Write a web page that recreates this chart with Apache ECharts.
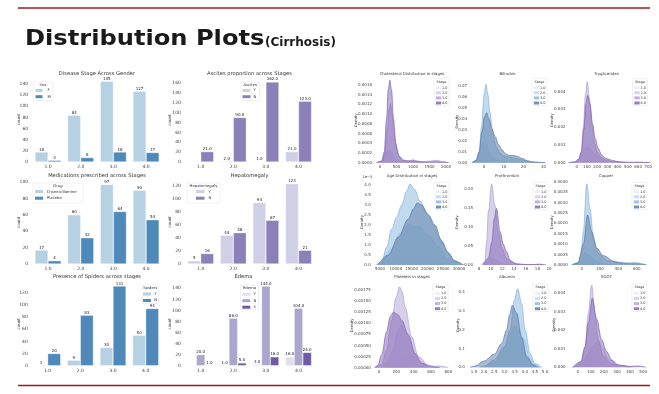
<!DOCTYPE html>
<html><head><meta charset="utf-8">
<script src="https://cdn.jsdelivr.net/npm/echarts@6/dist/echarts.min.js"></script>
<style>html,body{margin:0;padding:0;background:#fff}#c{width:659px;height:394px}</style>
</head><body><div id="c"></div>
<script>
// ---------------- DATA ----------------
const stages = ['1.0', '2.0', '3.0', '4.0'];
const sexF = [18, 84, 145, 127];
const sexM = [3, 8, 18, 17];
const ascitesY = [null, 2, 1, 21];
const ascitesN = [21, 90, 162, 123];
const drugDpen = [17, 60, 97, 90];
const drugPlacebo = [4, 32, 64, 54];
const hepaY = [5, 44, 94, 123];
const hepaN = [16, 48, 67, 21];
const spidersY = [1, 9, 30, 50];
const spidersN = [20, 83, 131, 94];
const edemaY = [null, 1, 3, 16];
const edemaN = [20, 86, 144, 104];
const edemaS = [1, 5, 16, 24];

const countTicks100 = [0, 20, 40, 60, 80, 100];
const countTicks120 = [0, 20, 40, 60, 80, 100, 120];
const countTicks140 = [0, 20, 40, 60, 80, 100, 120, 140];
const countTicks160 = [0, 20, 40, 60, 80, 100, 120, 140, 160];

// KDE curves [x, density]
const cholS1 = [[0,0],[150,0.00003],[300,0.00006],[450,0.00003],[700,0]];
const cholS2 = [[-80,0],[80,0.00004],[180,0.0002],[270,0.00026],[340,0.0002],[420,0.0001],[520,0.00004],[700,0.00001],[1000,0.00001],[1300,0]];
const cholS3 = [[-100,0],[50,0.00003],[150,0.0002],[220,0.0007],[280,0.0011],[320,0.00122],[370,0.001],[430,0.0006],[500,0.0003],[600,0.00012],[750,0.00005],[900,0.00004],[1000,0.00006],[1100,0.00004],[1300,0.00002],[1600,0.00004],[1750,0.00005],[1900,0.00002],[2080,0]];
const cholS4 = [[-100,0],[50,0.00003],[130,0.00022],[200,0.0009],[250,0.0015],[300,0.0017],[350,0.0015],[410,0.0009],[480,0.0004],[560,0.00015],[680,0.00005],[850,0.00003],[1000,0.00004],[1150,0.00002],[1400,0.00001],[1700,0.00002],[1900,0.00001],[2080,0]];

const biliS1 = [[-4,0],[-2,0.0015],[0.5,0.0035],[2.5,0.0025],[5,0.0008],[8,0.0002],[11,0]];
const biliS2 = [[-5.5,0],[-4,0.002],[-2,0.01],[-0.3,0.019],[1,0.017],[2.5,0.01],[4,0.005],[6,0.0025],[9,0.0015],[12,0.0012],[15,0.0008],[19,0.0003],[24,0]];
const biliS3 = [[-6,0],[-4,0.002],[-2.5,0.008],[-1.2,0.033],[0,0.062],[1,0.0717],[2,0.062],[3,0.046],[4.5,0.026],[6,0.015],[8,0.009],[10,0.006],[13,0.005],[16,0.004],[19,0.0025],[23,0.001],[27,0.0003],[31,0]];
const biliS4 = [[-6,0],[-4,0.002],[-2.5,0.01],[-1,0.028],[0.3,0.042],[1.3,0.0456],[2.5,0.04],[4,0.031],[5.6,0.024],[7.5,0.016],[9,0.012],[11,0.008],[13,0.0065],[15,0.0065],[17,0.0058],[19,0.004],[22,0.0018],[25,0.0006],[29,0.0001],[31,0]];

const trigS1 = [[-20,0],[40,0.00006],[90,0.00012],[140,0.0001],[200,0.00004],[300,0]];
const trigS2 = [[-60,0],[0,0.00005],[40,0.0003],[70,0.0007],[100,0.0009],[130,0.0008],[170,0.0005],[220,0.00025],[280,0.0001],[360,0.00004],[450,0]];
const trigS3 = [[-80,0],[-20,0.00003],[20,0.0002],[45,0.0006],[65,0.002],[85,0.0038],[104,0.00456],[125,0.0036],[150,0.0021],[175,0.0011],[200,0.0006],[240,0.0003],[290,0.00015],[350,0.00006],[450,0.00002],[560,0.00001],[700,0]];
const trigS4 = [[-80,0],[-20,0.00004],[20,0.0002],[45,0.0006],[70,0.0019],[90,0.0033],[107,0.0038],[130,0.0033],[155,0.0022],[180,0.00137],[210,0.0008],[245,0.00043],[280,0.00025],[310,0.0002],[350,0.00012],[420,0.00005],[520,0.00002],[600,0.00003],[660,0.00002],[720,0]];

// age densities in units of 1e-5
const ageS1 = [[4500,0],[7700,0.15],[10800,0.38],[14000,0.47],[17100,0.45],[21300,0.3],[25500,0.1],[28700,0]];
const ageS2 = [[5500,0],[8700,0.8],[11300,1.6],[14300,2.03],[17200,1.9],[20300,1.5],[23500,0.9],[26600,0.3],[29800,0]];
const ageS3 = [[3630,0],[5530,0.15],[7110,0.9],[8690,1.8],[10275,2.4],[11860,3.0],[13440,3.7],[14500,4.05],[15870,3.8],[17660,3.2],[19770,2.6],[21880,2.0],[24000,1.3],[26100,0.7],[28210,0.25],[30850,0.03],[31900,0]];
const ageS4 = [[4300,0],[7640,0.5],[10800,1.4],[13970,2.3],[15550,2.8],[16800,3.1],[18190,3.0],[20300,2.5],[22400,2.0],[24500,1.2],[26630,0.6],[28740,0.2],[31375,0]];

const prothS1 = [[9,0],[10,0.003],[11,0.002],[12,0]];
const prothS2 = [[8.5,0],[9.3,0.008],[10.2,0.018],[10.9,0.014],[11.6,0.006],[12.5,0.002],[14,0]];
const prothS3 = [[8.5,0],[9.0,0.01],[9.3,0.06],[9.6,0.14],[10.17,0.213],[10.7,0.158],[11.3,0.088],[11.9,0.044],[12.7,0.018],[13.5,0.008],[15,0.002],[17,0.001],[18.2,0.002],[19.2,0]];
const prothS4 = [[8.8,0],[9.6,0.018],[10.2,0.06],[10.6,0.12],[11.0,0.149],[11.6,0.088],[12.2,0.053],[12.7,0.035],[13.3,0.013],[14.2,0.003],[16,0.001],[17.5,0.001],[18.3,0.002],[19.5,0]];

const copperS1 = [[-50,0],[30,0.00008],[80,0.0001],[150,0.00004],[250,0]];
const copperS2 = [[-80,0],[0,0.0002],[36,0.0006],[90,0.0004],[170,0.00015],[250,0.00005],[350,0]];
const copperS3 = [[-110,0],[-40,0.0001],[-7,0.0005],[18,0.0016],[55,0.0039],[91,0.0027],[127,0.0013],[182,0.00056],[291,0.0002],[436,0.00008],[560,0.00003],[700,0]];
const copperS4 = [[-110,0],[-40,0.0001],[18,0.001],[65,0.0024],[109,0.0016],[164,0.0008],[236,0.00045],[364,0.00016],[480,0.00009],[582,0.0001],[710,0]];

const plateS1 = [[50,0],[130,0.00006],[200,0.0002],[242,0.00025],[300,0.0002],[380,0.00008],[460,0]];
const plateS2 = [[20,0],[88,0.0001],[165,0.0004],[220,0.00085],[262,0.00096],[310,0.0008],[358,0.00059],[454,0.00017],[560,0]];
const plateS3 = [[-40,0],[31,0.00006],[88,0.0004],[146,0.00107],[200,0.0016],[235,0.00182],[270,0.0017],[300,0.00137],[377,0.0007],[454,0.00025],[569,0.00006],[640,0.00003],[685,0.00004],[800,0]];
const plateS4 = [[-50,0],[-15,0.00005],[31,0.00029],[88,0.00081],[130,0.00115],[165,0.00125],[215,0.0012],[262,0.00107],[338,0.00074],[415,0.00032],[492,0.0001],[608,0.00002],[700,0]];

const albS1 = [[3.2,0],[3.5,0.02],[3.75,0.045],[3.98,0.055],[4.2,0.04],[4.5,0.012],[4.84,0]];
const albS2 = [[2.0,0],[2.54,0.03],[3.03,0.11],[3.3,0.18],[3.52,0.22],[3.7,0.2],[3.93,0.155],[4.26,0.048],[4.6,0.005],[4.8,0]];
const albS3 = [[1.8,0],[2.0,0.007],[2.5,0.04],[3.0,0.11],[3.28,0.2],[3.49,0.36],[3.65,0.42],[3.85,0.34],[4.02,0.2],[4.26,0.075],[4.5,0.02],[4.84,0]];
const albS4 = [[1.3,0],[1.55,0.007],[2.0,0.034],[2.5,0.07],[2.87,0.128],[3.11,0.2],[3.25,0.28],[3.39,0.33],[3.6,0.29],[3.85,0.16],[4.1,0.057],[4.43,0.012],[4.67,0]];

const sgotS1 = [[-30,0],[25,0.0002],[56,0.00049],[110,0.0004],[170,0.0002],[240,0.00006],[320,0]];
const sgotS2 = [[-30,0],[30,0.0002],[80,0.0007],[120,0.0012],[150,0.0014],[190,0.001],[240,0.0004],[310,0.00012],[400,0]];
const sgotS3 = [[-40,0],[-20,0.00003],[25,0.0003],[56,0.0011],[81,0.0029],[107,0.00445],[132,0.0029],[157,0.0015],[195,0.00058],[259,0.00018],[330,0.00006],[420,0]];
const sgotS4 = [[-40,0],[25,0.0003],[56,0.0011],[81,0.0024],[112,0.00373],[145,0.0026],[183,0.0015],[221,0.00085],[259,0.0004],[310,0.00013],[400,0.00005],[462,0.00007],[520,0]];

const cholXTicks = [0, 500, 1000, 1500, 2000];
const cholYTicks = [0, 0.0002, 0.0004, 0.0006, 0.0008, 0.0010, 0.0012, 0.0014, 0.0016];
const biliXTicks = [0, 10, 20, 30];
const biliYTicks = [0, 0.01, 0.02, 0.03, 0.04, 0.05, 0.06, 0.07];
const trigXTicks = [0, 100, 200, 300, 400, 500, 600, 700];
const trigYTicks = [0, 0.001, 0.002, 0.003, 0.004];
const ageXTicks = [5000, 10000, 15000, 20000, 25000, 30000];
const ageYTicks = [0, 0.5, 1.0, 1.5, 2.0, 2.5, 3.0, 3.5, 4.0];
const prothXTicks = [8, 10, 12, 14, 16, 18, 20];
const prothYTicks = [0, 0.05, 0.10, 0.15, 0.20];
const copperXTicks = [0, 200, 400, 600];
const copperYTicks = [0, 0.0005, 0.0010, 0.0015, 0.0020, 0.0025, 0.0030, 0.0035, 0.0040];
const plateXTicks = [0, 200, 400, 600, 800];
const plateYTicks = [0, 0.00025, 0.00050, 0.00075, 0.00100, 0.00125, 0.00150, 0.00175];
const albXTicks = [1.5, 2.0, 2.5, 3.0, 3.5, 4.0, 4.5, 5.0];
const albYTicks = [0, 0.1, 0.2, 0.3, 0.4];
const sgotXTicks = [0, 100, 200, 300, 400, 500];
const sgotYTicks = [0, 0.001, 0.002, 0.003, 0.004];
const stageLabels = ['1.0', '2.0', '3.0', '4.0'];

// ---------------- STYLE / LAYOUT ----------------
const FONT = 'DejaVu Sans';
const TXT = '#333';
const BLUE_BAR = ['#b6d0e4', '#4f89ba'];
const PURP_BAR = ['#d0cfe6', '#8b80b8'];
const EDEMA_BAR = ['#e1dfee', '#aba6cd', '#6e5ba3'];
const BLUE_KDE = ['#e3eef8', '#bcd6ec', '#86b5dd', '#5878a4'];
const PURP_KDE = ['#edeaf5', '#cfc9e4', '#ada1d1', '#8062b4'];

const int = v => String(Math.round(v));
const lab = (ticks, f, step) => v => ticks.some(t => Math.abs(t - v) < step * 0.01) ? f(v) : '';

const barSpecs = [
  {title: 'Disease Stage Across Gender', tx: 97, ty: 74, grid: {left: 31.7, top: 77.3, width: 130.7, height: 84.7}, yMax: 152, ticks: countTicks140, fmt: int,
   series: [['F', sexF, BLUE_BAR[0]], ['M', sexM, BLUE_BAR[1]]], nameX: 19,
   leg: {x: 33, y: 82, w: 20, h: 18.5, title: 'Sex', ty: 84.6, rows: [90.4, 96.7], px: 35.5, pw: 7, lx: 47.5}},
  {title: 'Ascites proportion across Stages', tx: 249.5, ty: 74, grid: {left: 184.4, top: 78, width: 130.4, height: 84}, yMax: 170, ticks: countTicks160, fmt: v => v.toFixed(1),
   series: [['Y', ascitesY, PURP_BAR[0]], ['N', ascitesN, PURP_BAR[1]]], nameX: 170,
   leg: {x: 241, y: 82, w: 18.5, h: 18.5, title: 'Ascites', ty: 84.6, rows: [90.4, 96.7], px: 242.5, pw: 8, lx: 253.5}},
  {title: 'Medications prescribed across Stages', tx: 97, ty: 176, grid: {left: 31.7, top: 180.5, width: 130.7, height: 83.5}, yMax: 101.85, ticks: countTicks100, fmt: int,
   series: [['D-penicillamine', drugDpen, BLUE_BAR[0]], ['Placebo', drugPlacebo, BLUE_BAR[1]]], nameX: 19,
   leg: {x: 33, y: 183, w: 50, h: 20, title: 'Drug', ty: 185.8, rows: [191.6, 198.2], px: 35, pw: 8, lx: 47}},
  {title: 'Hepatomegaly', tx: 249.5, ty: 176, grid: {left: 184.4, top: 179.7, width: 130.4, height: 84.3}, yMax: 129.15, ticks: countTicks120, fmt: int,
   series: [['Y', hepaY, PURP_BAR[0]], ['N', hepaN, PURP_BAR[1]]], nameX: 170,
   leg: {x: 187, y: 183, w: 33, h: 20, title: 'Hepatomegaly', ty: 185.8, rows: [191.6, 198.2], px: 196, pw: 8.5, lx: 208.5}},
  {title: 'Presence of Spiders across stages', tx: 97, ty: 277, grid: {left: 31.3, top: 282, width: 130.7, height: 83.7}, yMax: 137.55, ticks: countTicks120, fmt: int,
   series: [['Y', spidersY, BLUE_BAR[0]], ['N', spidersN, BLUE_BAR[1]]], nameX: 19,
   leg: {x: 142, y: 285, w: 16.5, h: 18.5, title: 'Spiders', ty: 287.6, rows: [294, 300.5], px: 143, pw: 8, lx: 154.3}},
  {title: 'Edema', tx: 243.5, ty: 277, grid: {left: 184.4, top: 282.1, width: 130.4, height: 83.6}, yMax: 151.2, ticks: countTicks140, fmt: v => v.toFixed(1),
   series: [['Y', edemaY, EDEMA_BAR[0]], ['N', edemaN, EDEMA_BAR[1]], ['S', edemaS, EDEMA_BAR[2]]], nameX: 170,
   leg: {x: 240.5, y: 285, w: 18, h: 24.5, title: 'Edema', ty: 288.3, rows: [294.2, 300.7, 307.2], px: 242.3, pw: 8, lx: 253.5}}
];

const kdeSpecs = [
  {title: 'Cholesterol Distribution in stages', tx: 412, ty: 74, pal: PURP_KDE, curves: [cholS1, cholS2, cholS3, cholS4],
   grid: {left: 375, top: 77.7, width: 74.3, height: 85}, x: [-150, 2100, 50], xt: cholXTicks, xf: int, y: [0, 0.00175, 0.00005], yt: cholYTicks, yf: v => v.toFixed(4), leg: [434, 78.3], dx: 356},
  {title: 'Bilirubin', tx: 507.5, ty: 74, pal: BLUE_KDE, curves: [biliS1, biliS2, biliS3, biliS4],
   grid: {left: 470.1, top: 80.5, width: 77.3, height: 82.2}, x: [-7, 32, 1], xt: biliXTicks, xf: int, y: [0, 0.075, 0.005], yt: biliYTicks, yf: v => v.toFixed(2), leg: [532, 78.3], dx: 457},
  {title: 'Tryglicerides', tx: 606.5, ty: 74, pal: PURP_KDE, curves: [trigS1, trigS2, trigS3, trigS4],
   grid: {left: 568.5, top: 77.5, width: 81.9, height: 85.2}, x: [-80, 720, 20], xt: trigXTicks, xf: int, y: [0, 0.0048, 0.0002], yt: trigYTicks, yf: v => v.toFixed(3), leg: [632.5, 78.3], dx: 552.5},
  {title: 'Age Distribution in stages', tx: 412, ty: 176, pal: BLUE_KDE, curves: [ageS1, ageS2, ageS3, ageS4],
   grid: {left: 373.7, top: 179, width: 94.8, height: 86}, x: [3000, 33000, 1000], xt: ageXTicks, xf: int, y: [0, 4.3, 0.1], yt: ageYTicks, yf: v => v.toFixed(1), leg: [434, 182.3], dx: 362},
  {title: 'Prothrombin', tx: 507, ty: 176, pal: PURP_KDE, curves: [prothS1, prothS2, prothS3, prothS4],
   grid: {left: 476.1, top: 179.5, width: 75.9, height: 85.5}, x: [7.5, 20.5, 0.5], xt: prothXTicks, xf: int, y: [0, 0.225, 0.025], yt: prothYTicks, yf: v => v.toFixed(2), leg: [533, 182.3], dx: 457},
  {title: 'Copper', tx: 606, ty: 176, pal: BLUE_KDE, curves: [copperS1, copperS2, copperS3, copperS4],
   grid: {left: 570.7, top: 179.6, width: 77, height: 85.4}, x: [-120, 720, 40], xt: copperXTicks, xf: int, y: [0, 0.0041, 0.0001], yt: copperYTicks, yf: v => v.toFixed(4), leg: [632, 182.3], dx: 552},
  {title: 'Platelets in stages', tx: 412, ty: 277, pal: PURP_KDE, curves: [plateS1, plateS2, plateS3, plateS4],
   grid: {left: 373.8, top: 283.3, width: 76.3, height: 84.4}, x: [-60, 820, 20], xt: plateXTicks, xf: int, y: [0, 0.0019, 0.00005], yt: plateYTicks, yf: v => v.toFixed(5), leg: [433, 284], dx: 352},
  {title: 'Albumin', tx: 507, ty: 277, pal: BLUE_KDE, curves: [albS1, albS2, albS3, albS4],
   grid: {left: 467.9, top: 283, width: 81.2, height: 84.4}, x: [1.2, 5.2, 0.1], xt: albXTicks, xf: v => v.toFixed(1), y: [0, 0.45, 0.05], yt: albYTicks, yf: v => v.toFixed(1), leg: [533, 284], dx: 458},
  {title: 'SGOT', tx: 606.5, ty: 277, pal: PURP_KDE, curves: [sgotS1, sgotS2, sgotS3, sgotS4],
   grid: {left: 568.5, top: 282.2, width: 78.6, height: 85.1}, x: [-70, 530, 10], xt: sgotXTicks, xf: int, y: [0, 0.0046, 0.0002], yt: sgotYTicks, yf: v => v.toFixed(3), leg: [632, 284], dx: 554}
];

// ---------------- BUILD ----------------
const grids = [], xAxes = [], yAxes = [], series = [], graphics = [];
const txt = (x, y, text, size, opts = {}) => graphics.push(Object.assign({
  type: 'text', x, y, silent: true,
  style: Object.assign({text, fontFamily: FONT, fontSize: size, fill: TXT, textAlign: 'center', textVerticalAlign: 'middle'}, opts.style || {})
}, opts.el || {}));
const rect = (x, y, w, h, style) => graphics.push({type: 'rect', silent: true, shape: {x, y, width: w, height: h, r: style.r || 0}, style});

const hidden = {axisLine: {show: false}, axisTick: {show: false}, splitLine: {show: false}};

barSpecs.forEach((b, i) => {
  grids.push(Object.assign({outerBoundsMode: 'none', containLabel: false}, b.grid));
  xAxes.push(Object.assign({type: 'category', gridIndex: i, data: stages,
    axisLabel: {fontFamily: FONT, fontSize: 4.5, color: '#444', margin: 2.5}}, hidden));
  yAxes.push(Object.assign({type: 'value', gridIndex: i, min: 0, max: b.yMax, interval: 20,
    axisLabel: {fontFamily: FONT, fontSize: 4.5, color: '#444', margin: 3.5, formatter: lab(b.ticks, int, 20), showMaxLabel: true}}, hidden));
  b.series.forEach(([name, data, color]) => {
    series.push({type: 'bar', name: 'b' + i + name, xAxisIndex: i, yAxisIndex: i, data,
      barGap: '0%', barCategoryGap: '20%', silent: true,
      itemStyle: {color, borderColor: 'rgba(255,255,255,0.7)', borderWidth: 0.5},
      label: {show: true, position: 'top', distance: 0.5, fontFamily: FONT, fontSize: 4, color: '#222',
        formatter: p => (p.value == null ? '' : b.fmt(p.value))}});
  });
  txt(b.tx, b.ty, b.title, 5.2);
  txt(b.nameX, b.grid.top + b.grid.height / 2, 'count', 4, {el: {rotation: Math.PI / 2}});
  const L = b.leg;
  rect(L.x, L.y, L.w, L.h, {fill: '#fff', stroke: '#d8d8d8', lineWidth: 0.4, r: 1});
  txt(L.x + L.w / 2, L.ty, L.title, 3.8);
  b.series.forEach(([name, , color], k) => {
    rect(L.px, L.rows[k] - 1.5, L.pw, 3, {fill: color});
    txt(L.lx, L.rows[k], name, 3.8, {style: {textAlign: 'left'}});
  });
});

kdeSpecs.forEach((k, j) => {
  const i = barSpecs.length + j;
  grids.push(Object.assign({outerBoundsMode: 'none', containLabel: false}, k.grid));
  xAxes.push(Object.assign({type: 'value', gridIndex: i, min: k.x[0], max: k.x[1], interval: k.x[2],
    axisLabel: {fontFamily: FONT, fontSize: 4, color: '#444', margin: 2.2, formatter: lab(k.xt, k.xf, k.x[2])}}, hidden));
  yAxes.push(Object.assign({type: 'value', gridIndex: i, min: k.y[0], max: k.y[1], interval: k.y[2],
    axisLabel: {fontFamily: FONT, fontSize: 4, color: '#444', margin: 3, formatter: lab(k.yt, k.yf, k.y[2])}}, hidden));
  k.curves.forEach((c, s) => {
    series.push({type: 'line', name: 'k' + j + 's' + s, xAxisIndex: i, yAxisIndex: i, data: c,
      smooth: 0.35, smoothMonotone: 'x', symbol: 'none', silent: true, z: 2 + s,
      lineStyle: {color: k.pal[s], width: 0.7},
      areaStyle: {color: k.pal[s], opacity: 0.5}});
  });
  txt(k.tx, k.ty, k.title, 3.9);
  txt(k.dx, k.grid.top + k.grid.height / 2, 'Density', 3.6, {el: {rotation: Math.PI / 2}});
  const [lx, ly] = k.leg;
  rect(lx, ly, 15, 27.4, {fill: '#fff', stroke: '#d8d8d8', lineWidth: 0.4, r: 1});
  txt(lx + 7.5, ly + 3.4, 'Stage', 3.4);
  stageLabels.forEach((s, n) => {
    const ry = ly + 9.4 + n * 5.1;
    rect(lx + 2, ry - 1.3, 5, 2.6, {fill: k.pal[n], opacity: 0.8, stroke: k.pal[n], lineWidth: 0.3});
    txt(lx + 13.5, ry, s, 3.4, {style: {textAlign: 'right'}});
  });
});
txt(367.5, 177.2, '1e\u22125', 3.6);

// decorations and page title
graphics.push({type: 'line', silent: true, shape: {x1: 18, y1: 8, x2: 650, y2: 8}, style: {stroke: '#9e1a1a', lineWidth: 1.4}});
graphics.push({type: 'line', silent: true, shape: {x1: 18, y1: 385.5, x2: 650, y2: 385.5}, style: {stroke: '#9e1a1a', lineWidth: 1.4}});
txt(25, 40, 'Distribution Plots', 21, {style: {textAlign: 'left', fontWeight: 'bold', fill: '#1a1a1a'}, el: {scaleX: 1.15}});
txt(265, 43, '(Cirrhosis)', 12, {style: {textAlign: 'left', fontWeight: 'bold', fill: '#1a1a1a'}});

const chart = echarts.init(document.getElementById('c'), null, {renderer: 'canvas'});
chart.setOption({
  animation: false,
  backgroundColor: '#fff',
  grid: grids, xAxis: xAxes, yAxis: yAxes, series,
  graphic: {elements: graphics}
});
</script></body></html>
